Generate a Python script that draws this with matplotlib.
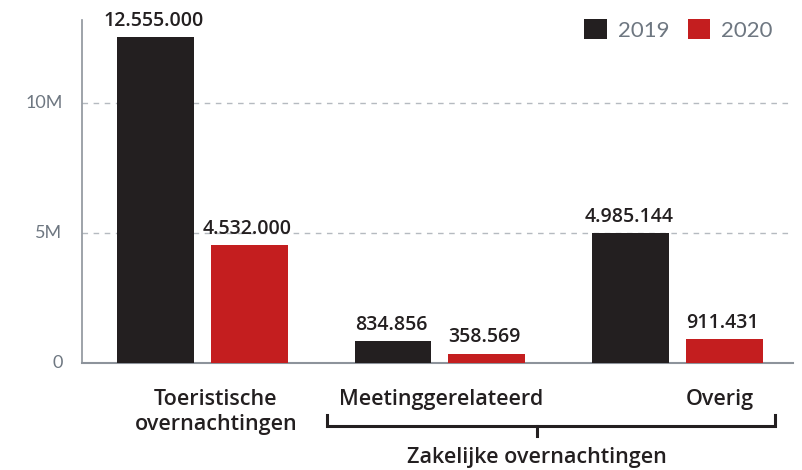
import matplotlib
matplotlib.use("Agg")
import matplotlib.pyplot as plt
import numpy as np

categories = ["Toeristische\novernachtingen", "Meetinggerelateerd", "Overig"]
series_names = ["2019", "2020"]
values_2019 = [12555000, 834856, 4985144]
values_2020 = [4532000, 358569, 911431]
value_labels_2019 = ["12.555.000", "834.856", "4.985.144"]
value_labels_2020 = ["4.532.000", "358.569", "911.431"]
group_label = "Zakelijke overnachtingen"
yticks = [0, 5e6, 10e6]
ytick_labels = ["0", "5M", "10M"]

C_BLACK = "#231f20"
C_RED = "#c41e1f"
GRAY = "#6e7781"
LABEL_FONT = ['Open Sans', 'DejaVu Sans']

plt.rcParams['font.family'] = ['Lato', 'DejaVu Sans']

W, H = 803, 470
fig = plt.figure(figsize=(W / 100, H / 100), dpi=100)
ax = fig.add_axes([82 / W, (H - 363) / H, (793 - 82) / W, (363 - 20) / H])

x = np.arange(len(categories))
bw = 0.3235
off = 0.1975
b1 = ax.bar(x - off, values_2019, bw, color=C_BLACK, zorder=3, label=series_names[0])
b2 = ax.bar(x + off, values_2020, bw, color=C_RED, zorder=3, label=series_names[1])

for rects, labels in ((b1, value_labels_2019), (b2, value_labels_2020)):
    for r, lab in zip(rects, labels):
        ax.annotate(lab, (r.get_x() + r.get_width() / 2, r.get_height()),
                    xytext=(-1.5, 4.5), textcoords="offset points", ha="center", va="bottom",
                    fontsize=14, fontweight="semibold", color="#231f20", family=LABEL_FONT)

ax.set_xlim(-0.506, 2.485)
ax.set_ylim(0, 13.2e6)
ax.set_yticks(yticks)
ax.set_yticklabels(ytick_labels)
ax.tick_params(axis="y", length=0, pad=14, labelsize=13, labelcolor=GRAY)
ax.set_xticks([])
for t in ax.get_yticklabels():
    t.set_va("center")

for v in yticks[1:]:
    ax.axhline(v, color="#b5bac0", lw=1, ls=(0, (4, 4)), zorder=1)

for s in ("top", "right"):
    ax.spines[s].set_visible(False)
ax.spines["left"].set_color("#8d939b")
ax.spines["bottom"].set_color("#8d939b")
ax.spines["left"].set_linewidth(1.2)
ax.spines["bottom"].set_linewidth(1.5)

def fx(px):
    return px / W
def fy(py):
    return (H - py) / H

cat_kw = dict(ha="center", va="center", fontweight="semibold",
              color="#231f20", family=LABEL_FONT)
fig.text(fx(216), fy(412), categories[0], linespacing=1.25, fontsize=15.5, **cat_kw)
fig.text(fx(441), fy(399), categories[1], fontsize=15.5, **cat_kw)
fig.text(fx(720), fy(399), categories[2], fontsize=15.5, **cat_kw)

# bracket
lw = 2.2
fig.add_artist(plt.Line2D([fx(327), fx(327), fx(775), fx(775)],
                          [fy(415), fy(426), fy(426), fy(415)], color="#231f20", lw=lw,
                          solid_joinstyle="miter"))
fig.add_artist(plt.Line2D([fx(537), fx(537)], [fy(426), fy(436)], color="#231f20", lw=lw))
fig.text(fx(537), fy(457), group_label, fontsize=15.5, **cat_kw)

# legend
leg = ax.legend(handles=[b1, b2], loc="upper right",
                bbox_to_anchor=((773 - 82) / (793 - 82), 1.0 + 1 / 343),
                ncol=2, frameon=False, fontsize=16, handlelength=1.0, handleheight=1.0,
                handletextpad=0.5, columnspacing=0.85, borderaxespad=0, borderpad=0)
for t in leg.get_texts():
    t.set_color(GRAY)

fig.savefig("out.png", dpi=100)
